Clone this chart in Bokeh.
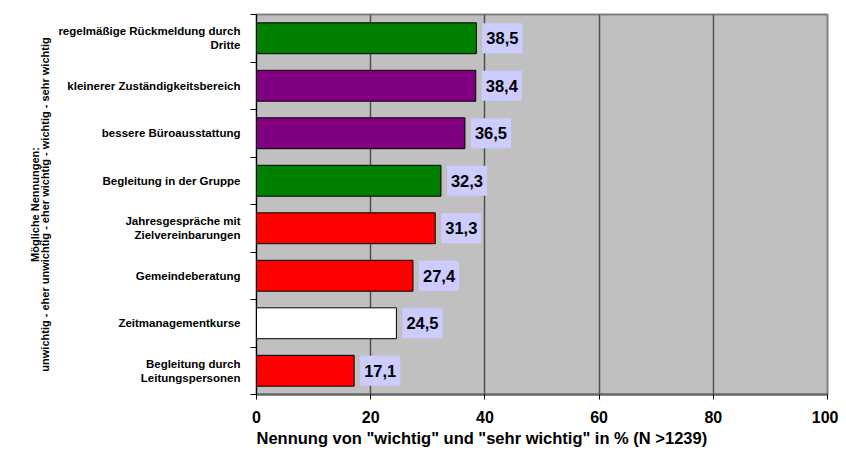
from bokeh.plotting import figure
from bokeh.models import Range1d, FixedTicker, ColumnDataSource, Title
from bokeh.core.properties import value
from bokeh.embed import file_html
from bokeh.resources import INLINE

# Categories listed from top to bottom as in the chart
categories = [
    "regelmäßige Rückmeldung durch\nDritte",
    "kleinerer Zuständigkeitsbereich",
    "bessere Büroausstattung",
    "Begleitung in der Gruppe",
    "Jahresgespräche mit\nZielvereinbarungen",
    "Gemeindeberatung",
    "Zeitmanagementkurse",
    "Begleitung durch\nLeitungspersonen",
]
values = [38.5, 38.4, 36.5, 32.3, 31.3, 27.4, 24.5, 17.1]
bar_colors = ["#008000", "#800080", "#800080", "#008000",
              "#ff0000", "#ff0000", "#ffffff", "#ff0000"]
x_ticks = [0, 20, 40, 60, 80, 100]
x_title = 'Nennung von "wichtig" und "sehr wichtig" in % (N >1239)'
y_title = ("Mögliche Nennungen:\n"
           "unwichtig - eher unwichtig - eher wichtig - wichtig - sehr wichtig")

FONT = "Liberation Sans"
n = len(categories)
pos = [n - 1 - i + 0.5 for i in range(n)]
val_labels = [f"{v:.1f}".replace(".", ",") for v in values]

src = ColumnDataSource(dict(pos=pos, val=values, color=bar_colors, lbl=val_labels))

p = figure(width=838, height=449,
           x_range=Range1d(0, 100), y_range=Range1d(0, n),
           output_backend="svg", toolbar_location=None,
           min_border_left=256, min_border_right=11,
           min_border_top=14, min_border_bottom=55)
p.background_fill_color = "#c0c0c0"
p.border_fill_color = "white"
p.outline_line_color = "#808080"
p.outline_line_width = 2

p.hbar(y="pos", left=0, right="val", height=0.65, fill_color="color",
       line_color="black", line_width=1, source=src)

p.text(x="val", y="pos", text="lbl", x_offset=6, text_align="left",
       text_baseline="middle", anchor="center_left",
       text_font=value(FONT), text_font_style="bold", text_font_size="16.5px",
       text_color="black", background_fill_color="#ccccff", padding=(4, 9),
       source=src)

# grid
p.ygrid.visible = False
p.xgrid.ticker = FixedTicker(ticks=x_ticks)
p.xgrid.grid_line_color = "#505050"
p.xgrid.grid_line_width = 1.5

# x axis
p.xaxis.ticker = FixedTicker(ticks=x_ticks)
p.xaxis.axis_line_color = "#606060"
p.xaxis.axis_line_width = 2
p.xaxis.major_tick_line_color = "black"
p.xaxis.major_tick_out = 5
p.xaxis.major_tick_in = 0
p.xaxis.minor_tick_line_color = None
p.xaxis.major_label_text_font = FONT
p.xaxis.major_label_text_font_style = "bold"
p.xaxis.major_label_text_font_size = "16px"
p.xaxis.major_label_text_color = "black"
p.xaxis.major_label_standoff = 11

# y axis: category labels at centres, ticks between categories
p.yaxis.ticker = FixedTicker(ticks=pos, minor_ticks=list(range(n + 1)))
p.yaxis.major_label_overrides = {pp: cat for pp, cat in zip(pos, categories)}
p.yaxis.major_tick_line_color = None
p.yaxis.major_tick_out = 0
p.yaxis.major_tick_in = 0
p.yaxis.minor_tick_line_color = "black"
p.yaxis.minor_tick_out = 6
p.yaxis.minor_tick_in = 0
p.yaxis.axis_line_color = "black"
p.yaxis.axis_line_width = 1
p.yaxis.major_label_standoff = 10
p.yaxis.major_label_text_font = FONT
p.yaxis.major_label_text_font_style = "bold"
p.yaxis.major_label_text_font_size = "11.5px"
p.yaxis.major_label_text_color = "black"
p.yaxis.axis_label = y_title
p.yaxis.axis_label_text_font = FONT
p.yaxis.axis_label_text_font_style = "bold"
p.yaxis.axis_label_text_font_size = "11px"
p.yaxis.axis_label_text_color = "black"
p.yaxis.axis_label_text_line_height = 0.9
p.yaxis.axis_label_standoff = 4

p.add_layout(Title(text=x_title, align="left", offset=0, standoff=3,
                   text_font=FONT, text_font_style="bold",
                   text_font_size="16.5px", text_color="black"), "below")

open("out.html", "w").write(file_html(p, INLINE))
